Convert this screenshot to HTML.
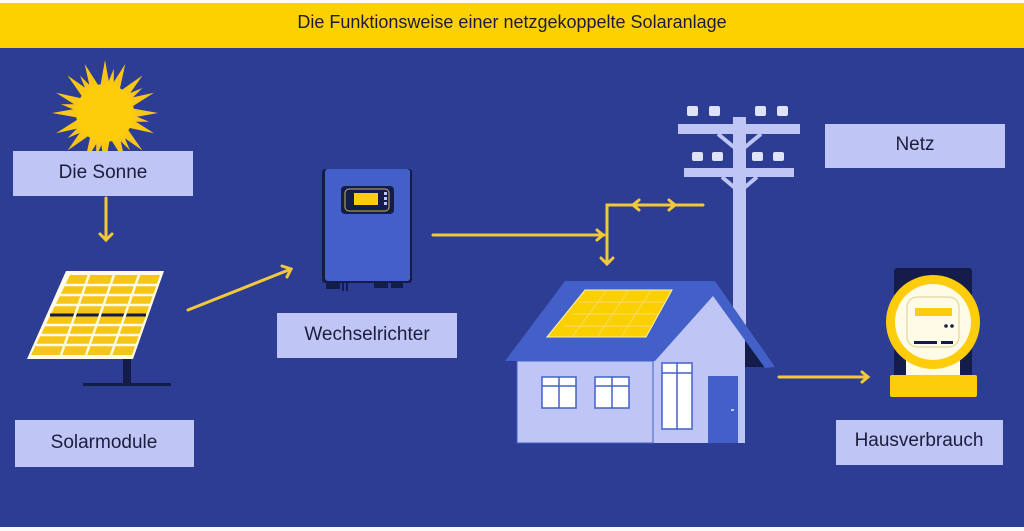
<!DOCTYPE html>
<html><head><meta charset="utf-8"><style>
html,body{margin:0;padding:0;width:1024px;height:531px;overflow:hidden;background:#fff}
svg text{font-family:"Liberation Sans",sans-serif}
</style></head><body>
<svg width="1024" height="531" viewBox="0 0 1024 531" xmlns="http://www.w3.org/2000/svg">
<rect x="0" y="0" width="1024" height="531" fill="#fafafa"/>
<rect x="0" y="48" width="1024" height="479" fill="#2d3d93"/>
<rect x="0" y="3" width="1024" height="45" fill="#fdd000"/>
<text x="512" y="28" font-size="18" text-anchor="middle" fill="#1d1d3a">Die Funktionsweise einer netzgekoppelte Solaranlage</text>

<!-- sun -->
<g transform="translate(105,113)" fill="#fbc716">
<polygon points="0,-53 5,-25 -5,-25" transform="rotate(0)"/>
<polygon points="0,-53 5,-25 -5,-25" transform="rotate(22.5)"/>
<polygon points="0,-53 5,-25 -5,-25" transform="rotate(45)"/>
<polygon points="0,-53 5,-25 -5,-25" transform="rotate(67.5)"/>
<polygon points="0,-53 5,-25 -5,-25" transform="rotate(90)"/>
<polygon points="0,-53 5,-25 -5,-25" transform="rotate(112.5)"/>
<polygon points="0,-53 5,-25 -5,-25" transform="rotate(135)"/>
<polygon points="0,-53 5,-25 -5,-25" transform="rotate(157.5)"/>
<polygon points="0,-53 5,-25 -5,-25" transform="rotate(180)"/>
<polygon points="0,-53 5,-25 -5,-25" transform="rotate(202.5)"/>
<polygon points="0,-53 5,-25 -5,-25" transform="rotate(225)"/>
<polygon points="0,-53 5,-25 -5,-25" transform="rotate(247.5)"/>
<polygon points="0,-53 5,-25 -5,-25" transform="rotate(270)"/>
<polygon points="0,-53 5,-25 -5,-25" transform="rotate(292.5)"/>
<polygon points="0,-53 5,-25 -5,-25" transform="rotate(315)"/>
<polygon points="0,-53 5,-25 -5,-25" transform="rotate(337.5)"/>
<polygon points="0,-45 4,-25 -4,-25" transform="rotate(11.25)"/>
<polygon points="0,-45 4,-25 -4,-25" transform="rotate(56.25)"/>
<polygon points="0,-45 4,-25 -4,-25" transform="rotate(101.25)"/>
<polygon points="0,-45 4,-25 -4,-25" transform="rotate(146.25)"/>
<polygon points="0,-45 4,-25 -4,-25" transform="rotate(191.25)"/>
<polygon points="0,-45 4,-25 -4,-25" transform="rotate(236.25)"/>
<polygon points="0,-45 4,-25 -4,-25" transform="rotate(281.25)"/>
<polygon points="0,-45 4,-25 -4,-25" transform="rotate(326.25)"/>
<circle r="29" fill="#fdcc0a"/>
</g>
<rect x="13" y="151" width="180" height="45" fill="#bfc6f5"/>
<text x="103" y="178" font-size="19" text-anchor="middle" fill="#1c1d3d">Die Sonne</text>

<g stroke="#f3c83a" stroke-width="3" fill="none" stroke-linecap="round">
<line x1="106" y1="198" x2="106" y2="240"/>
<polyline points="100,234 106,240 112,234"/>
<line x1="188" y1="310" x2="291" y2="269"/>
<polyline points="282,266 291,269 287,277"/>
<line x1="433" y1="235" x2="604" y2="235"/>
<polyline points="597,230 603,235 597,240"/>
<polyline points="703,205 607,205 607,264"/>
<polyline points="601,258 607,264 613,258"/>
<polyline points="639,200 633,205 639,210"/>
<polyline points="669,200 675,205 669,210"/>
<line x1="779" y1="377" x2="868" y2="377"/>
<polyline points="862,372 868,377 862,382"/>
</g>

<!-- solar panel -->
<rect x="123" y="356" width="8" height="30" fill="#141c4a"/>
<rect x="83" y="383" width="88" height="3" fill="#141c4a"/>
<polygon points="66,271 164,271 133,359 27,359" fill="#fffbe6"/>
<polygon points="70,275 160,275 132,355 31,355" fill="#f5c518"/>
<g stroke="#fffbe6" stroke-width="2.5">
<line x1="50" y1="315" x2="146" y2="315" stroke="#141c4a" stroke-width="3"/>
<line x1="61" y1="285" x2="157" y2="285"/><line x1="57" y1="295" x2="153" y2="295"/><line x1="53" y1="305" x2="150" y2="305"/>
<line x1="43" y1="325" x2="143" y2="325"/><line x1="40" y1="335" x2="140" y2="335"/><line x1="36" y1="345" x2="136" y2="345"/>
<line x1="90" y1="272" x2="60" y2="358"/><line x1="115" y1="272" x2="85" y2="358"/><line x1="140" y1="272" x2="110" y2="358"/>
</g>
<rect x="15" y="420" width="179" height="47" fill="#bfc6f5"/>
<text x="104" y="448" font-size="19" text-anchor="middle" fill="#1c1d3d">Solarmodule</text>

<!-- inverter -->
<rect x="322" y="169" width="90" height="114" rx="3" fill="#141c4a"/>
<rect x="325" y="169" width="85" height="112" rx="3" fill="#4360c8"/>
<rect x="341" y="186" width="53" height="28" rx="4" fill="#141c4a"/>
<rect x="345" y="189" width="44" height="22" rx="4" fill="none" stroke="#c8b060" stroke-width="1"/>
<rect x="354" y="193" width="24" height="12" fill="#fdcc0a"/>
<rect x="384" y="192" width="3" height="3" fill="#bfc6f5"/><rect x="384" y="197" width="3" height="3" fill="#bfc6f5"/><rect x="384" y="202" width="3" height="3" fill="#bfc6f5"/>
<rect x="326" y="283" width="14" height="6" fill="#141c4a"/><rect x="342" y="283" width="2" height="8" fill="#141c4a"/><rect x="346" y="283" width="2" height="8" fill="#141c4a"/>
<rect x="374" y="283" width="14" height="5" fill="#141c4a"/><rect x="391" y="283" width="12" height="5" fill="#141c4a"/>
<rect x="277" y="313" width="180" height="45" fill="#bfc6f5"/>
<text x="367" y="340" font-size="19" text-anchor="middle" fill="#1c1d3d">Wechselrichter</text>

<!-- pole -->
<rect x="733" y="117" width="13" height="210" fill="#bfc6f5"/>
<rect x="678" y="124" width="122" height="10" fill="#bfc6f5"/>
<rect x="684" y="168" width="110" height="9" fill="#bfc6f5"/>
<g stroke="#bfc6f5" stroke-width="4"><line x1="718" y1="134" x2="735" y2="148"/><line x1="761" y1="134" x2="744" y2="148"/><line x1="722" y1="177" x2="735" y2="188"/><line x1="757" y1="177" x2="744" y2="188"/></g>
<g fill="#dfe3fa">
<rect x="687" y="106" width="11" height="10" rx="2"/><rect x="709" y="106" width="11" height="10" rx="2"/><rect x="755" y="106" width="11" height="10" rx="2"/><rect x="777" y="106" width="11" height="10" rx="2"/>
<rect x="692" y="152" width="11" height="9" rx="2"/><rect x="712" y="152" width="11" height="9" rx="2"/><rect x="752" y="152" width="11" height="9" rx="2"/><rect x="773" y="152" width="11" height="9" rx="2"/>
</g>
<rect x="825" y="124" width="180" height="44" fill="#bfc6f5"/>
<text x="915" y="150" font-size="19" text-anchor="middle" fill="#1c1d3d">Netz</text>

<!-- house -->
<polygon points="712,287 652,362 652,443 745,443 745,340" fill="#bfc6f5"/>
<rect x="517" y="361" width="136" height="82" fill="#bfc6f5" stroke="#4360c8" stroke-width="1"/>
<polygon points="712,287 745,330 745,367 775,367" fill="#141c4a"/>
<polygon points="565,281 715,281 775,367 765,368 713,296 655,361 505,361" fill="#4360c8"/>
<polygon points="585,290 672,290 646,337 547,337" fill="#fbd000" stroke="#fff3b0" stroke-width="1"/>
<g stroke="#f7dc6a" stroke-width="1"><line x1="579" y1="302" x2="665" y2="302"/><line x1="572" y1="314" x2="659" y2="314"/><line x1="564" y1="326" x2="653" y2="326"/><line x1="607" y1="290" x2="572" y2="337"/><line x1="629" y1="290" x2="597" y2="337"/><line x1="651" y1="290" x2="621" y2="337"/></g>
<g fill="#fff" stroke="#4360c8" stroke-width="1.5">
<rect x="542" y="377" width="34" height="31"/><rect x="595" y="377" width="34" height="31"/><rect x="662" y="363" width="30" height="66"/>
</g>
<g stroke="#4360c8" stroke-width="1.5"><line x1="559" y1="377" x2="559" y2="408"/><line x1="542" y1="386" x2="576" y2="386"/><line x1="612" y1="377" x2="612" y2="408"/><line x1="595" y1="386" x2="629" y2="386"/><line x1="677" y1="363" x2="677" y2="429"/><line x1="662" y1="373" x2="692" y2="373"/></g>
<rect x="708" y="376" width="30" height="67" fill="#4360c8"/>
<rect x="731" y="409" width="3" height="2" fill="#bfc6f5"/>

<!-- meter -->
<rect x="894" y="268" width="78" height="112" rx="3" fill="#141c4a"/>
<rect x="906" y="355" width="54" height="25" fill="#fffbe6"/>
<rect x="890" y="375" width="87" height="22" rx="2" fill="#fdcc0a"/>
<circle cx="933" cy="322" r="47" fill="#fdcc0a"/>
<circle cx="933" cy="322" r="38" fill="#fffbe6"/>
<rect x="907" y="297" width="52" height="50" rx="10" fill="none" stroke="#d8cf90" stroke-width="1"/>
<rect x="915" y="308" width="37" height="8" fill="#fdcc0a"/>
<circle cx="946" cy="326" r="1.8" fill="#141c4a"/><circle cx="952" cy="326" r="1.8" fill="#141c4a"/>
<rect x="914" y="341" width="23" height="3" fill="#141c4a"/><rect x="941" y="341" width="12" height="3" fill="#141c4a"/>
<rect x="836" y="420" width="167" height="45" fill="#bfc6f5"/>
<text x="919" y="446" font-size="19" text-anchor="middle" fill="#1c1d3d">Hausverbrauch</text>
</svg>
</body></html>
